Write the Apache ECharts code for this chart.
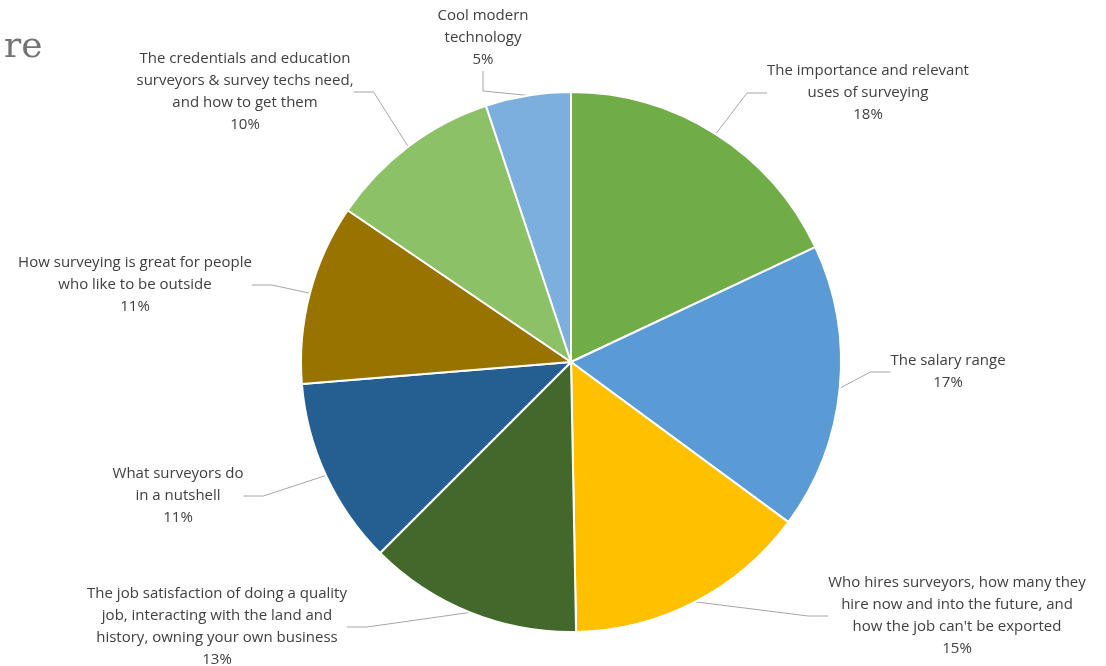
<!DOCTYPE html>
<html>
<head>
<meta charset="utf-8">
<script src="https://cdn.jsdelivr.net/npm/echarts@6/dist/echarts.min.js"></script>
<style>
  html, body { margin: 0; padding: 0; background: #fff; }
  #chart { width: 1106px; height: 666px; }
</style>
</head>
<body>
<div id="chart"></div>
<script>
// slices, clockwise from 12 o'clock
const categories = [
  "The importance and relevant\nuses of surveying",
  "The salary range",
  "Who hires surveyors, how many they\nhire now and into the future, and\nhow the job can't be exported",
  "The job satisfaction of doing a quality\njob, interacting with the land and\nhistory, owning your own business",
  "What surveyors do\nin a nutshell",
  "How surveying is great for people\nwho like to be outside",
  "The credentials and education\nsurveyors & survey techs need,\nand how to get them",
  "Cool modern\ntechnology"
];
// shares (labels show them rounded)
const shares = [18.0, 17.1, 14.6, 12.8, 11.2, 10.8, 10.4, 5.1];
const colors = ["#70ad47", "#5b9bd5", "#ffc000", "#43682b", "#255e91", "#997300", "#8cc168", "#7cafdd"];

// label anchors (top centre of each text block)
const labelSpots = [
  [868, 60], [948, 350], [957, 572], [217, 583],
  [178, 463], [135, 252], [245, 48], [483, 5]
];

const chart = echarts.init(document.getElementById("chart"));

chart.setOption({
  animation: false,
  color: colors,
  graphic: [{
    type: "text",
    left: 4,
    top: 30,
    style: { text: "re", font: "36px 'DejaVu Serif'", fill: "#737373" }
  }],
  series: [{
    type: "pie",
    center: [571, 362],
    radius: 270,
    startAngle: 90,
    clockwise: true,
    data: categories.map((name, i) => ({ name, value: shares[i] })),
    itemStyle: { borderColor: "#fff", borderWidth: 2 },
    label: {
      show: true,
      formatter: (p) => p.name + "\n" + Math.round(p.percent) + "%",
      fontFamily: "Open Sans",
      fontSize: 15,
      lineHeight: 22,
      color: "#404040",
      align: "center"
    },
    labelLine: {
      show: true,
      length: 20,
      length2: 20,
      lineStyle: { color: "#a6a6a6", width: 1 }
    },
    labelLayout: (p) => ({
      x: labelSpots[p.dataIndex][0],
      y: labelSpots[p.dataIndex][1],
      align: "center",
      verticalAlign: "top"
    })
  }]
});
</script>
</body>
</html>
